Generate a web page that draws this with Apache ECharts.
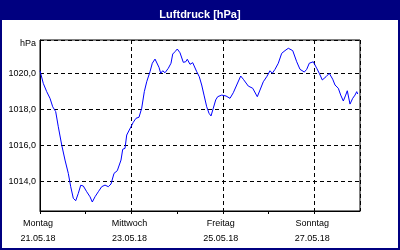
<!DOCTYPE html>
<html>
<head>
<meta charset="utf-8">
<style>html,body{margin:0;padding:0;background:#fff;}#c{width:400px;height:250px;}</style>
<script src="https://cdn.jsdelivr.net/npm/echarts@6/dist/echarts.min.js"></script>
</head>
<body>
<div id="c"></div>
<script>
// hours since Mon 21.05.18 00:00
const hours = [0,1.73,3.52,5.25,6.67,8.24,9.61,11.39,13.13,14.86,16.12,17.48,18.74,20.11,21.37,22.73,24.52,26.25,27.46,28.88,30.61,32.39,34.13,35.86,37.28,38.85,40.58,41.48,42.53,43.42,44.63,45.52,46.88,47.78,48.98,50.4,51.98,53.39,54.76,56.02,57.75,58.96,60.38,61.27,62.48,63.37,64.42,65.63,67.36,68.78,69.67,70.88,72.08,73.5,75.23,76.49,77.33,78.75,80.17,81.01,82.27,83.63,84.89,86.1,87.52,88.73,89.78,90.98,92.24,93.29,95.39,97.65,99.75,101.48,103.27,105.37,106.73,109.36,111.67,114.08,115.5,117.23,119.02,120.75,121.96,123.38,125.11,126.89,128.63,130.36,132.67,134.77,136.5,138.76,140.02,141.38,143.48,145.27,146.63,148.21,150.15,151.88,153.67,154.88,156.61,157.87,159.24,160.5,161.33,162.75,164.17,165.38,166.27,166.8];
const pressure = [1020.14,1019.44,1018.98,1018.61,1018.14,1017.87,1017.03,1016.02,1015.18,1014.44,1013.70,1013.06,1012.92,1013.33,1013.78,1013.74,1013.42,1013.14,1012.85,1013.14,1013.42,1013.70,1013.79,1013.70,1013.85,1014.44,1014.59,1014.53,1015.18,1015.78,1015.83,1016.57,1016.85,1017.03,1017.28,1017.50,1017.56,1018.06,1018.98,1019.53,1020.09,1020.56,1020.79,1020.70,1020.33,1020.00,1020.14,1020.03,1020.28,1020.56,1021.07,1021.20,1021.35,1021.14,1020.61,1020.64,1020.78,1020.50,1020.59,1020.52,1020.09,1019.81,1019.35,1018.79,1018.14,1017.78,1017.63,1018.06,1018.52,1018.70,1018.79,1018.74,1018.61,1018.92,1019.35,1019.85,1019.67,1019.29,1019.17,1018.70,1019.07,1019.53,1019.81,1020.14,1020.00,1020.22,1020.56,1021.11,1021.26,1021.39,1021.26,1020.64,1020.22,1020.07,1020.22,1020.56,1020.64,1020.28,1020.00,1019.63,1019.81,1020.00,1019.67,1019.35,1019.17,1018.79,1018.46,1018.79,1019.03,1018.29,1018.61,1018.79,1018.98,1018.85];
const dayLabels = ['Montag','Mittwoch','Freitag','Sonntag'];
const dateLabels = ['21.05.18','23.05.18','25.05.18','27.05.18'];
const labelHours = [0,48,96,144];

const FONT = 'Liberation Sans';
const chart = echarts.init(document.getElementById('c'), null, {renderer:'canvas'});
chart.setOption({
  animation:false,
  backgroundColor:'#fff',
  title:{
    text:'Luftdruck [hPa]', left:'center', top:4,
    textStyle:{color:'#fff', fontWeight:'bold', fontSize:11, fontFamily:FONT}
  },
  graphic:[
    {type:'rect', z:-1, shape:{x:0,y:0,width:400,height:20}, style:{fill:'#000080'}},
    {type:'rect', z:-1, shape:{x:1,y:1,width:398,height:248}, style:{fill:null, stroke:'#000080', lineWidth:2}},
    {type:'text', x:36, y:44, style:{text:'hPa', fill:'#000', font:'9px "'+FONT+'"', align:'right', verticalAlign:'middle'}}
  ],
  grid:{left:40, top:40, width:320, height:171, show:true, borderColor:'#000', borderWidth:1, backgroundColor:'#fff'},
  xAxis:[
    {
      type:'value', min:0, max:168, interval:24,
      axisLine:{show:true, lineStyle:{color:'#000'}},
      axisTick:{show:true, length:3, lineStyle:{color:'#000'}},
      splitLine:{show:false},
      axisLabel:{
        show:true, margin:5, color:'#000', fontSize:9, fontFamily:FONT, lineHeight:15,
        padding:[0,4,0,0],
        showMaxLabel:false,
        formatter:function(v){
          const i = labelHours.indexOf(v);
          return i<0 ? '' : dayLabels[i]+'\n'+dateLabels[i];
        }
      }
    },
    {
      type:'value', min:0, max:168, interval:48, position:'bottom',
      axisLine:{show:false}, axisTick:{show:false}, axisLabel:{show:false},
      splitLine:{show:true, lineStyle:{color:'#000', type:[4,3], width:1}}
    }
  ],
  yAxis:{
    type:'value', min:1012.35, max:1021.85, splitNumber:5,
    axisLine:{show:true, lineStyle:{color:'#000'}},
    axisTick:{show:false},
    splitLine:{show:true, lineStyle:{color:'#000', type:[4,3], width:1}},
    axisLabel:{
      margin:4, color:'#000', fontSize:9, fontFamily:FONT,
      formatter:function(v){
        const r = Math.round(v);
        if (Math.abs(v-r) > 1e-6 || r % 2 !== 0) return '';
        return r.toFixed(1).replace('.', ',');
      }
    }
  },
  series:[{
    type:'line', xAxisIndex:0,
    data: hours.map((h,i)=>[h, pressure[i]]),
    showSymbol:false, symbol:'none',
    lineStyle:{color:'#0000ff', width:1},
    z:3
  }]
});
</script>
</body>
</html>
